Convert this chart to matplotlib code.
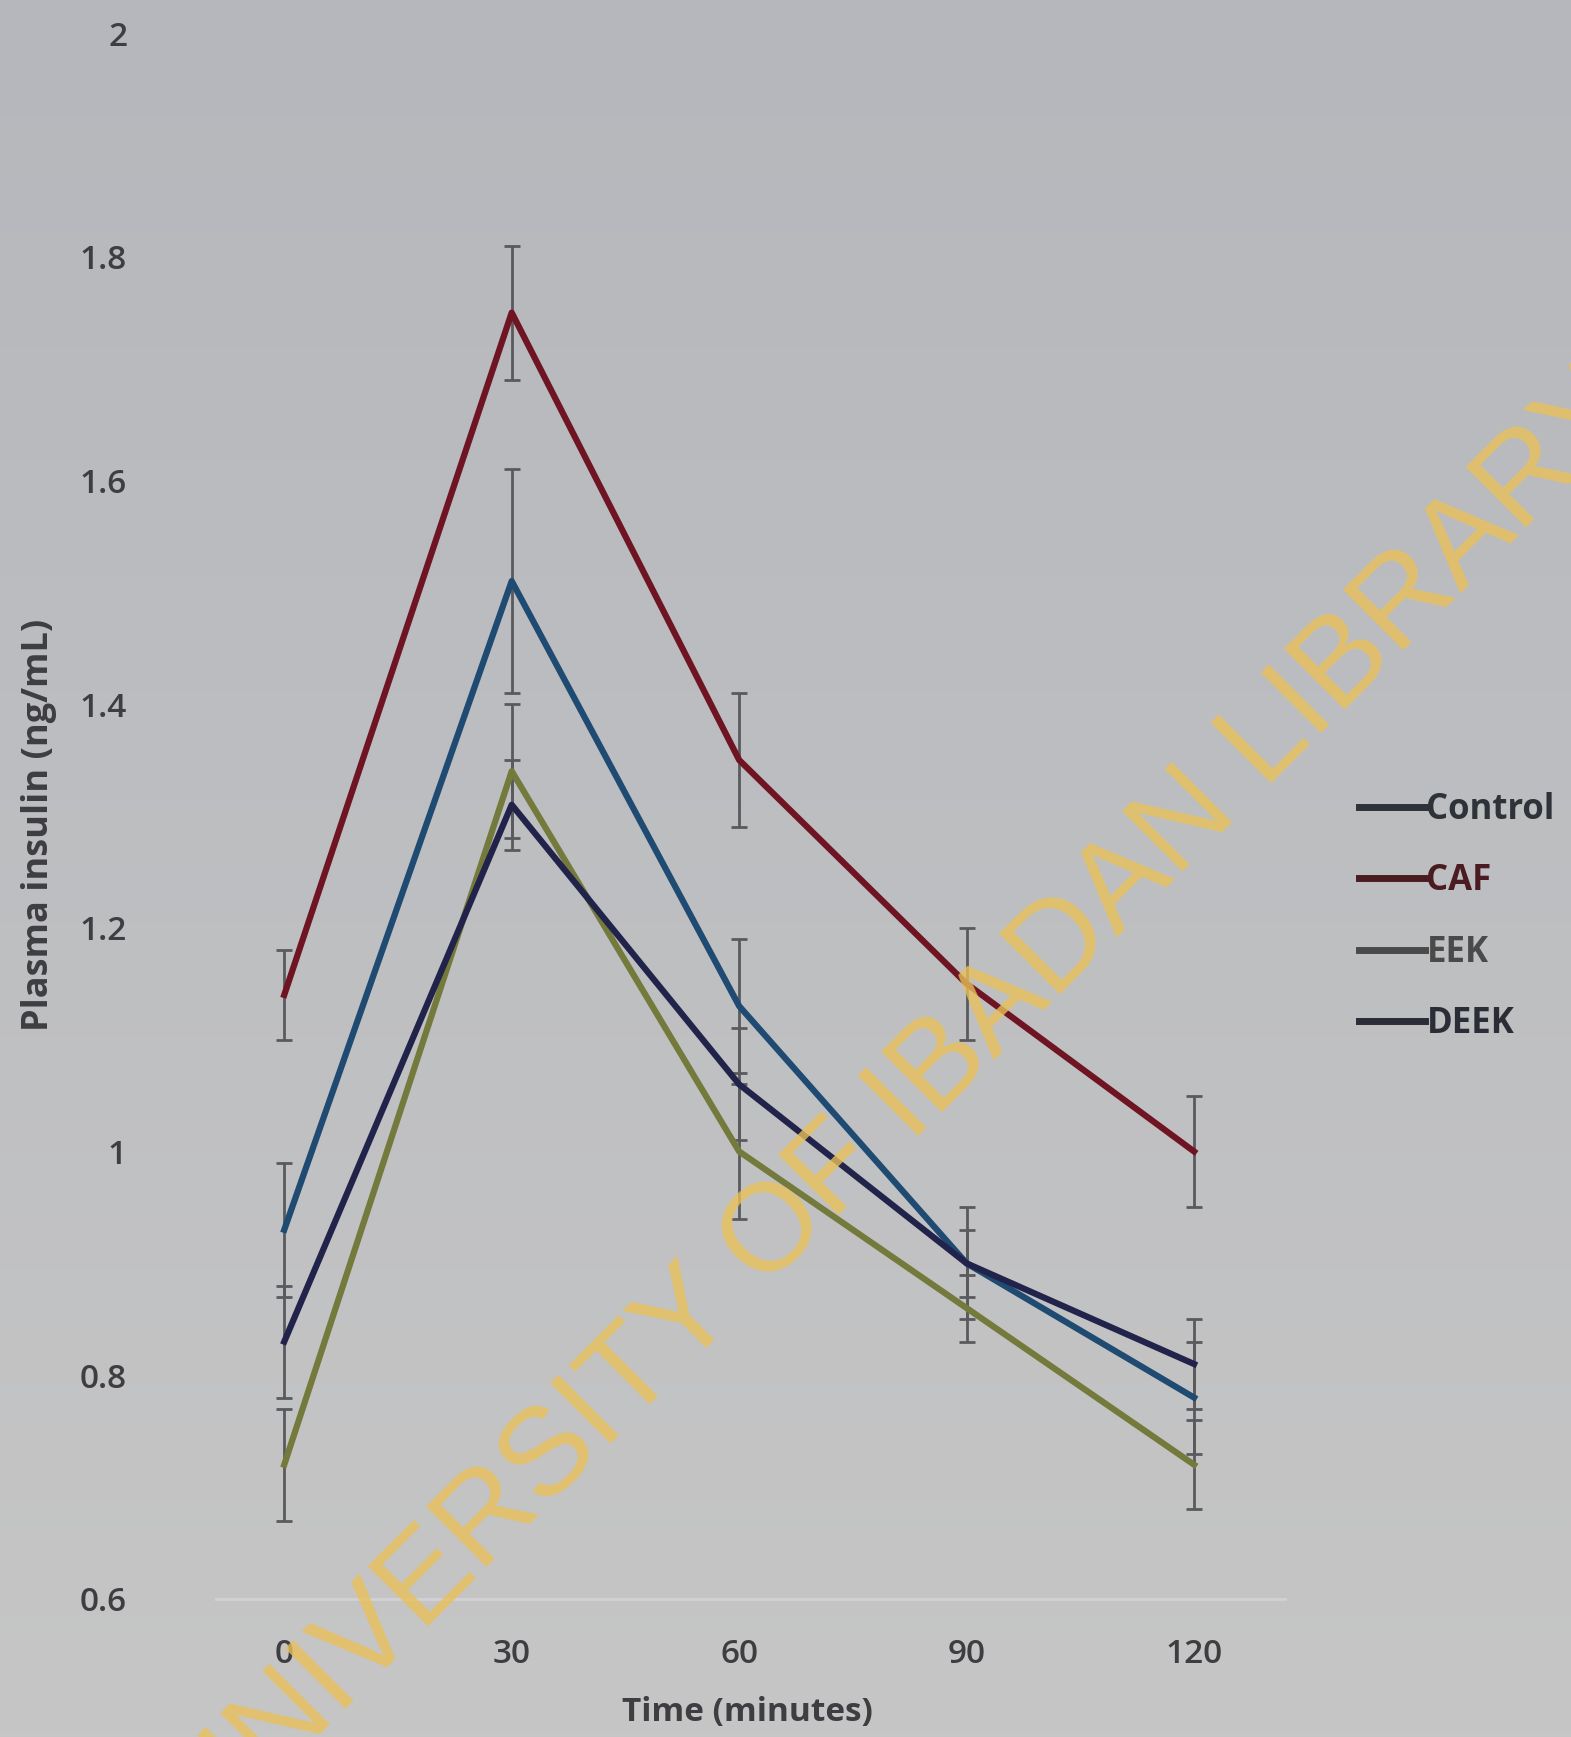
import matplotlib
matplotlib.use("Agg")
import matplotlib.pyplot as plt
import numpy as np

# Data
time_min = [0, 30, 60, 90, 120]
series_names = ["Control", "CAF", "EEK", "DEEK"]
control = [0.93, 1.51, 1.13, 0.90, 0.78]
control_err = [0.06, 0.10, 0.06, 0.05, 0.05]
caf = [1.14, 1.75, 1.35, 1.15, 1.00]
caf_err = [0.04, 0.06, 0.06, 0.05, 0.05]
eek = [0.72, 1.34, 1.00, 0.86, 0.72]
eek_err = [0.05, 0.06, 0.06, 0.03, 0.04]
deek = [0.83, 1.31, 1.06, 0.90, 0.81]
deek_err = [0.05, 0.04, 0.05, 0.03, 0.04]
y_ticks = [0.6, 0.8, 1.0, 1.2, 1.4, 1.6, 1.8, 2.0]
y_tick_labels = ["0.6", "0.8", "1", "1.2", "1.4", "1.6", "1.8", "2"]
x_tick_labels = ["0", "30", "60", "90", "120"]

colors = {"Control": "#1f4a72", "CAF": "#6e1423", "EEK": "#747a3c", "DEEK": "#22234a"}
legend_colors = {"Control": "#2e3339", "CAF": "#4a1c22", "EEK": "#4a4a4a", "DEEK": "#2a2c36"}

plt.rcParams['font.family'] = ['Open Sans', 'DejaVu Sans']

fig = plt.figure(figsize=(15.71, 17.37), dpi=100)
fig.patch.set_facecolor("#bebfc3")

# subtle background gradient
bg = fig.add_axes([0, 0, 1, 1], zorder=-10)
grad = np.linspace(0, 1, 256).reshape(-1, 1)
bg.imshow(grad, aspect="auto", cmap=matplotlib.colors.LinearSegmentedColormap.from_list(
    "g", ["#b5b7bc", "#c6c6c6"]), extent=[0, 1, 0, 1], origin="upper")
bg.set_axis_off()

ax = fig.add_axes([0.1375, 0.0795, 0.6805, 0.9015])
ax.set_facecolor("none")

data = {"Control": (control, control_err), "CAF": (caf, caf_err),
        "EEK": (eek, eek_err), "DEEK": (deek, deek_err)}
for name in series_names:
    vals, errs = data[name]
    ax.errorbar(time_min, vals, yerr=errs, fmt="none", ecolor="#5a5a5e",
                elinewidth=2, capsize=6, capthick=2, zorder=2)
for name in series_names:
    vals, errs = data[name]
    ax.plot(time_min, vals, color=colors[name], lw=4.5, zorder=3)

ax.set_xlim(-9, 132)
ax.set_ylim(0.6, 2.0)
ax.set_yticks(y_ticks)
ax.set_yticklabels(y_tick_labels)
ax.set_xticks(time_min)
ax.set_xticklabels(x_tick_labels)
for s in ["top", "right", "left"]:
    ax.spines[s].set_visible(False)
ax.spines["bottom"].set_color("#d2d2d4")
ax.spines["bottom"].set_linewidth(2)
ax.tick_params(axis="y", length=0, pad=64, labelsize=24, labelcolor="#3e3e42")
ax.tick_params(axis="x", length=0, pad=28, labelsize=24, labelcolor="#3e3e42")
for lab in ax.get_xticklabels() + ax.get_yticklabels():
    lab.set_fontweight("semibold")

fig.text(0.025, 0.525, "Plasma insulin (ng/mL)", rotation=90, ha="center", va="center",
         fontsize=26, fontweight="bold", color="#3e3e42")
fig.text(0.476, 0.014, "Time (minutes)", ha="center", va="center",
         fontsize=24, fontweight="bold", color="#3e3e42")

# legend
from matplotlib.lines import Line2D
handles = [Line2D([0], [0], color=legend_colors[n], lw=5) for n in series_names]
leg = fig.legend(handles, series_names, loc="upper left", bbox_to_anchor=(0.845, 0.562),
                 frameon=False, handlelength=1.9, handletextpad=0.05, labelspacing=1.02,
                 prop={"size": 25, "weight": "bold"})
for t, n in zip(leg.get_texts(), series_names):
    t.set_color(legend_colors[n])

# watermark
fig.text(0.575, 0.363, "UNIVERSITY OF IBADAN LIBRARY", rotation=45, ha="center", va="center",
         fontsize=90, color="#e9c15a", alpha=0.8, family=["Liberation Sans", "DejaVu Sans"],
         zorder=10, rotation_mode="anchor")

fig.savefig("out.png", dpi=100, facecolor=fig.get_facecolor())
